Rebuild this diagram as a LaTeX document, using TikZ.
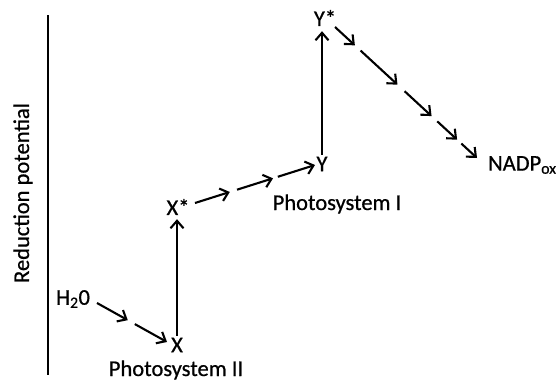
\documentclass[tikz,border=0pt]{standalone}
\usepackage{fontspec}
\setmainfont{Carlito}[FakeBold=0.7]
\usetikzlibrary{arrows.meta, calc}
\tikzset{
  lbl/.style={font=\fontsize{22.5}{26}\selectfont, inner sep=2pt},
  elec/.style={line width=2.1pt, -{Straight Barb[length=7.5pt,width=13pt]}},
}

\begin{document}
\begin{tikzpicture}[x=1pt, y=-1pt]
  \useasboundingbox (0,0) rectangle (559,383);
  % axis
  \coordinate (axtop) at (48,15);
  \coordinate (axbot) at (48,375);
  \draw[line width=1.4pt] (axtop) -- (axbot);
  \node[lbl, rotate=90] (axis) at (23,193) {Reduction potential};
  % states
  \node[lbl] (h2o) at (73,299) {H\textsubscript{2}0};
  \node[lbl] (x) at (177,345) {X};
  \node[lbl, anchor=base] (ps2) at (176,376) {Photosystem II};
  \node[lbl] (xs) at (178,207) {X*};
  \node[lbl] (y) at (322,164) {Y};
  \node[lbl] (ps1) at (337,204) {Photosystem I};
  \node[lbl] (ys) at (325,18) {Y*};
  \node[lbl, anchor=west] (nadp) at (486,165) {NADP\textsubscript{ox}};
  % excitation
  \draw[elec, shorten >=2pt] (x.north) -- (x.north |- xs.south);
  \draw[elec, shorten >=3pt] (y.north) -- (y.north |- ys.south);
  % transfer chains
  \coordinate (w0) at (97,303);
  \coordinate (w1) at (167,342);
  \foreach \a/\b in {0/0.44, 0.54/1}
    \draw[elec] ($(w0)!\a!(w1)$) -- ($(w0)!\b!(w1)$);
  \coordinate (p0) at (195,203);
  \coordinate (p1) at (315,165);
  \foreach \a/\b in {0/0.29, 0.35/0.65, 0.69/1}
    \draw[elec] ($(p0)!\a!(p1)$) -- ($(p0)!\b!(p1)$);
  \coordinate (q0) at (335,27);
  \coordinate (q1) at (477,158);
  \foreach \a/\b in {0/0.14, 0.18/0.44, 0.49/0.68, 0.72/0.86, 0.89/1}
    \draw[elec] ($(q0)!\a!(q1)$) -- ($(q0)!\b!(q1)$);
\end{tikzpicture}
\end{document}
